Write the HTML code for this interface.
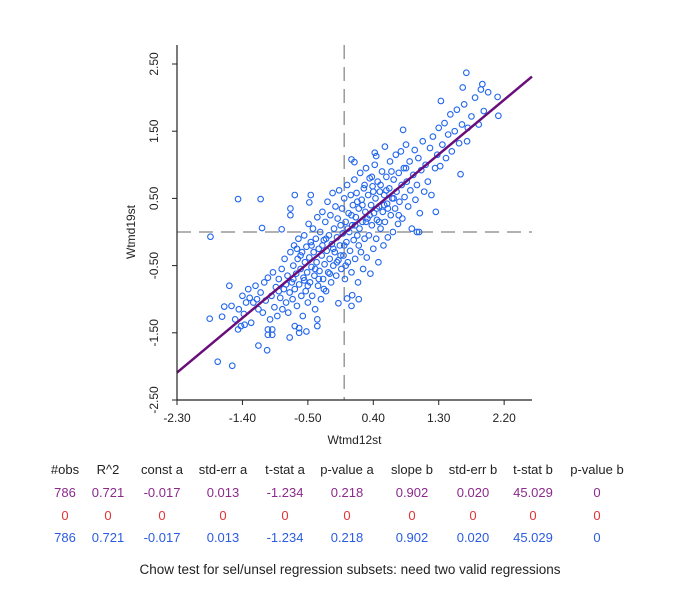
<!DOCTYPE html>
<html><head><meta charset="utf-8"><style>
body{margin:0;background:#fff;width:680px;height:589px;overflow:hidden;font-family:"Liberation Sans",sans-serif;}
svg{position:absolute;left:0;top:0}
</style></head><body>
<svg id="chart" width="680" height="589" font-family="Liberation Sans, sans-serif"></svg>
<script>
const xTicks=[-2.30,-1.40,-0.50,0.40,1.30,2.20];
const yTicks=[-2.50,-1.50,-0.50,0.50,1.50,2.50];
const regA=-0.017, regB=0.902;
const headers=["#obs","R^2","const a","std-err a","t-stat a","p-value a","slope b","std-err b","t-stat b","p-value b"];
const rowAll=["786","0.721","-0.017","0.013","-1.234","0.218","0.902","0.020","45.029","0"];
const rowSel=["0","0","0","0","0","0","0","0","0","0"];
const rowUnsel=["786","0.721","-0.017","0.013","-1.234","0.218","0.902","0.020","45.029","0"];
const pts=[[-1.84,-0.07],[-1.46,0.49],[-1.15,0.49],[-1.13,0.06],[-0.68,0.55],[-0.46,0.55],[-0.48,0.44],[-0.74,0.35],[-0.74,0.25],[-0.86,0.04],
[-1.85,-1.29],[-1.74,-1.93],[-1.54,-1.99],[-1.68,-1.26],[-1.65,-1.11],[-1.55,-1.10],[-1.58,-0.80],[-1.46,-1.45],[-1.37,-1.38],[-1.18,-1.69],[-1.06,-1.76],[-0.75,-1.57],
[-1.05,-1.45],[-0.99,-1.45],[-1.05,-1.53],[-0.99,-1.53],[-0.68,-1.40],[-0.62,-1.43],[-0.62,-1.50],[-0.52,-1.48],[-0.37,-1.30],[-0.37,-1.40],[-0.08,-1.06],[0.04,-0.99],[0.10,-1.10],[0.20,-1.00],[0.11,-0.94],
[1.60,0.86],[1.26,0.30],[1.68,2.37],[1.90,2.20],[1.88,2.12],[1.63,2.15],[2.11,2.01],[2.12,1.73],[1.33,1.95],[0.81,1.52],[0.56,1.27],[0.42,1.18],[0.44,1.13],[0.10,1.08],[0.14,1.04],[1.00,0.0],[1.03,0.0],[1.69,1.35],
[-1.50,-1.30],[-1.45,-1.15],[-1.40,-0.95],[-1.38,-1.22],[-1.35,-1.05],[-1.32,-0.85],[-1.28,-1.35],[-1.20,-1.00],[-1.42,-1.40],
[-1.30,-0.98],[-1.25,-1.05],[-1.22,-0.80],[-1.18,-1.15],[-1.15,-0.90],[-1.12,-1.20],[-1.10,-0.75],[-1.08,-1.02],[-1.05,-0.68],[-1.02,-1.30],[-1.00,-0.95],[-0.98,-0.60],[-0.96,-1.12],[-0.94,-0.82],[-0.92,-1.25],[-0.90,-0.70],[-0.88,-0.98],[-0.86,-0.55],[-0.85,-1.15],[-0.83,-0.85],[-0.82,-0.40],[-0.80,-1.05],[-0.78,-0.65],[-0.77,-1.20],[-0.75,-0.90],[-0.74,-0.30],[-0.72,-0.75],[-0.71,-1.00],[-0.70,-0.50],[-0.69,-0.20],[-0.68,-0.85],[-0.66,-0.62],[-0.65,-1.10],[-0.64,-0.40],[-0.63,-0.10],[-0.62,-0.78],[-0.60,-0.55],[-0.59,-0.95],[-0.58,-0.30],[-0.57,-1.25],[-0.56,-0.68],[-0.55,-0.05],[-0.54,-0.45],[-0.53,-0.88],[-0.52,-0.22],[-0.51,-0.60],[-0.50,-1.05],[-0.49,0.12],[-0.48,-0.38],[-0.47,-0.75],[-0.46,-0.15],[-0.45,-0.52],[-0.44,-0.95],[-0.43,0.05],[-0.42,-0.30],[-0.41,-0.65],[-0.40,-1.15],[-0.39,-0.10],[-0.38,-0.45],[-0.37,0.22],[-0.36,-0.80],[-0.35,-0.25],[-0.34,-0.58],[-0.33,0.00],[-0.32,-1.00],[-0.31,-0.35],[-0.30,0.30],[-0.29,-0.70],[-0.28,-0.12],[-0.27,-0.48],[-0.26,0.15],[-0.25,-0.88],[-0.24,-0.28],[-0.23,0.45],[-0.22,-0.60],[-0.21,-0.05],[-0.20,-0.40],[-0.19,0.25],[-0.18,-0.75],[-0.17,-0.18],[-0.16,0.58],[-0.15,-0.50],[-0.14,0.05],[-0.13,-0.30],[-0.12,0.38],[-0.11,-0.65],[-0.10,-0.08],[-0.09,0.20],[-0.08,-0.42],[-0.07,0.62],[-0.06,-0.20],[-0.05,0.10],[-0.04,-0.55],[-0.03,0.35],[-0.02,-0.02],[-0.01,-0.35],[0.00,0.50],[0.01,-0.70],[0.02,0.15],[0.03,-0.15],[0.04,0.70],[0.05,-0.45],[0.06,0.28],[0.07,0.00],[0.08,-0.28],[0.09,0.55],[0.10,-0.60],[0.11,0.10],[0.12,0.40],[0.13,-0.12],[0.14,0.78],[0.15,-0.40],[0.16,0.22],[0.17,0.58],[0.18,-0.05],[0.19,-0.75],[0.20,0.35],[0.21,0.05],[0.22,0.88],[0.23,-0.30],[0.24,0.48],[0.25,0.15],[0.26,-0.55],[0.27,0.65],[0.28,-0.10],[0.29,0.30],[0.30,0.95],[0.31,-0.38],[0.32,0.20],[0.33,0.55],[0.34,-0.05],[0.35,0.80],[0.36,-0.62],[0.37,0.40],[0.38,0.10],[0.39,0.68],[0.40,-0.25],[0.41,0.28],[0.42,1.00],[0.43,0.50],[0.44,-0.10],[0.45,0.18],[0.46,0.75],[0.47,-0.45],[0.48,0.38],[0.49,0.60],[0.50,0.05],[0.52,0.90],[0.53,0.30],[0.54,-0.20],[0.55,0.55],[0.56,0.15],[0.58,0.82],[0.59,0.42],[0.60,-0.08],[0.62,0.65],[0.63,1.05],[0.64,0.25],[0.66,0.50],[0.67,0.00],[0.68,0.78],[0.70,0.35],[0.71,1.15],[0.72,0.60],[0.74,0.12],[0.75,0.88],[0.76,0.45],[0.78,1.20],[0.79,0.70],[0.80,0.20],[0.82,0.95],[0.83,0.52],[0.85,1.30],[0.86,0.75],[0.88,0.38],[0.90,1.05],[0.91,0.62],[0.93,0.05],[0.95,0.85],[0.97,1.22],[0.98,0.48],[1.00,0.70],[1.02,1.10],[1.04,0.28],[1.06,0.92],[1.08,1.35],[1.10,0.60],[1.12,1.00],[1.15,0.75],[1.18,1.25],[1.20,0.55],[1.22,1.42],[1.25,0.95],[1.28,1.15],[1.30,1.55],[1.32,0.98],[1.35,1.30],[1.38,1.62],[1.40,1.10],[1.43,1.45],[1.46,1.75],[1.48,1.20],[1.52,1.50],[1.55,1.82],[1.58,1.32],[1.62,1.60],[1.65,1.90],[1.70,1.55],[1.75,1.72],[1.80,2.00],[1.85,1.60],[1.92,1.80],[1.98,2.08],
[-0.60,-0.35],[-0.45,-0.20],[-0.35,-0.70],[-0.25,-0.10],[-0.15,-0.25],[-0.05,-0.35],[0.05,0.05],[0.15,0.10],[0.25,0.40],[0.35,0.25],[0.45,0.35],[0.55,0.40],[-0.50,-0.80],[-0.40,-0.55],[-0.30,-0.20],[-0.20,-0.62],[-0.10,-0.45],[0.00,-0.20],[0.10,0.25],[0.20,-0.20],[0.30,0.15],[0.40,0.60],[0.50,0.70],[0.60,0.35],[-0.70,-0.70],[-0.80,-0.78],[-0.90,-0.88],[-0.65,-0.25],[0.65,0.90],[0.75,0.25],[0.85,0.95],[-0.55,-0.72],[-0.28,-0.85],[0.02,-0.50],[0.18,0.45],[0.28,0.70],[0.38,0.82],[0.48,0.15],[0.58,0.62],[0.68,0.50]];

const L=177,R=532,T=45,B=400;
const xMin=-2.3,xMax=-2.3+(R-L)/72.7;
const yMin=-2.5,yMax=-2.5+(B-T)/67.2;
const sx=v=>L+(v-xMin)/(xMax-xMin)*(R-L);
const sy=v=>B-(v-yMin)/(yMax-yMin)*(B-T);
const svg=document.getElementById('chart');
const NS='http://www.w3.org/2000/svg';
function mk(tag,attrs,parent){const e=document.createElementNS(NS,tag);for(const k in attrs)e.setAttribute(k,attrs[k]);(parent||svg).appendChild(e);return e;}
function txt(str,attrs,parent){const e=mk('text',attrs,parent);e.textContent=str;return e;}

let e=mk('line',{x1:sx(0),x2:sx(0),y1:T,y2:B,stroke:'#999','stroke-width':1.5,'stroke-dasharray':'14,8'});


e=mk('line',{x1:L,x2:R,y1:sy(0),y2:sy(0),stroke:'#999','stroke-width':1.5,'stroke-dasharray':'14,8'});



const g=mk('g',{});


pts.forEach(p=>{const c=mk('circle',{cx:sx(p[0]),cy:sy(p[1]),r:2.8,fill:'none',stroke:'#2266ee','stroke-width':1.1},g);

});

const x0=xMin,x1=xMax;
e=mk('line',{x1:sx(x0),y1:sy(regA+regB*x0),x2:sx(x1),y2:sy(regA+regB*x1),stroke:'#6a0f7a','stroke-width':2.5});



e=mk('line',{x1:L,x2:L,y1:T,y2:B,stroke:'#222','stroke-width':1.2});


e=mk('line',{x1:L,x2:R,y1:B,y2:B,stroke:'#222','stroke-width':1.2});


xTicks.forEach(v=>{mk('line',{x1:sx(v),x2:sx(v),y1:B,y2:B+5,stroke:'#222'});
const t=txt(v.toFixed(2),{x:sx(v),y:B+22,'font-size':12,'text-anchor':'middle',fill:'#222'});

});
yTicks.forEach(v=>{mk('line',{x1:L-5,x2:L,y1:sy(v),y2:sy(v),stroke:'#222'});
const t=txt(v.toFixed(2),{x:0,y:0,'font-size':12,'text-anchor':'middle',fill:'#222',transform:`translate(${L-23},${sy(v)}) rotate(-90) translate(0,4)`});

});
e=txt('Wtmd12st',{x:(L+R)/2,y:444,'font-size':12,'text-anchor':'middle',fill:'#222'});


e=txt('Wtmd19st',{x:0,y:0,'font-size':12,'text-anchor':'middle',fill:'#222',transform:`translate(135,${sy(0)}) rotate(-90)`});



const colX=[65,108,162,223,285,347,412,473,533,597];
const rows=[[headers,'#222',474,'table-header'],[rowAll,'#8b2a8b',497,'row-all'],[rowSel,'#e03535',520,'row-selected'],[rowUnsel,'#2a5ce0',542,'row-unselected']];
rows.forEach(r=>{r[0].forEach((s,i)=>{const t=txt(s,{x:colX[i],y:r[2],'font-size':13,'text-anchor':'middle',fill:r[1]});

});});
e=txt('Chow test for sel/unsel regression subsets: need two valid regressions',{x:350,y:574,'font-size':13.5,'text-anchor':'middle',fill:'#222'});


</script>
</body></html>
